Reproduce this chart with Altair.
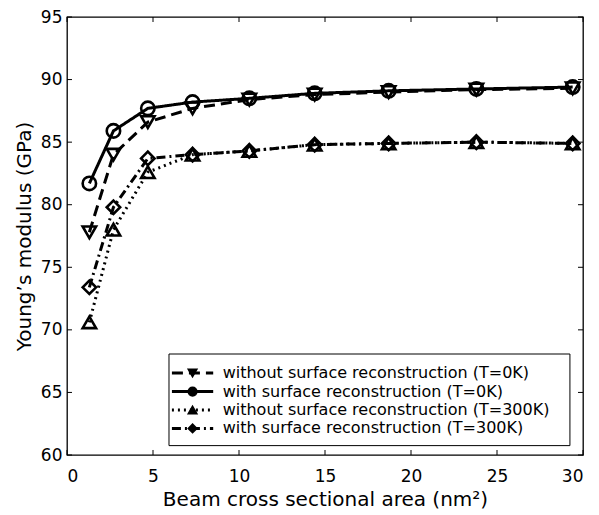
import altair as alt
import pandas as pd

# ---- data ----
area = [1.3, 2.7, 4.7, 7.3, 10.6, 14.4, 18.7, 23.8, 29.4]
series_names = [
    "without surface reconstruction (T=0K)",
    "with surface reconstruction (T=0K)",
    "without surface reconstruction (T=300K)",
    "with surface reconstruction (T=300K)",
]
without_0K = [77.8, 84.0, 86.6, 87.7, 88.4, 88.8, 89.0, 89.2, 89.3]
with_0K = [81.7, 85.9, 87.7, 88.2, 88.5, 88.9, 89.1, 89.25, 89.4]
without_300K = [70.6, 78.0, 82.6, 84.0, 84.3, 84.8, 84.9, 85.0, 84.9]
with_300K = [73.4, 79.8, 83.7, 84.0, 84.3, 84.8, 84.9, 85.0, 84.9]
x_ticks = [0, 5, 10, 15, 20, 25, 30]
y_ticks = [60, 65, 70, 75, 80, 85, 90, 95]

# legend layout (in data units)
legend_box = {"x": 5.93, "x2": 29.24, "y": 60.75, "y2": 68.07}
legend_rows_y = [66.55, 65.07, 63.6, 62.12]
legend_line_x = [6.1, 8.5]
legend_marker_x = 7.3
legend_text_x = 9.05

FONT = "DejaVu Sans"

values = [without_0K, with_0K, without_300K, with_300K]
rows = []
for name, vals in zip(series_names, values):
    for xv, yv in zip(area, vals):
        rows.append({"series": name, "area": xv, "E": yv})
df = pd.DataFrame(rows)

leg_lines = pd.DataFrame(
    [{"series": n, "area": lx, "E": ly} for n, ly in zip(series_names, legend_rows_y) for lx in legend_line_x]
)
leg_pts = pd.DataFrame(
    [{"series": n, "area": legend_marker_x, "E": ly} for n, ly in zip(series_names, legend_rows_y)]
)
leg_txt = pd.DataFrame(
    [{"series": n, "area": legend_text_x, "E": ly} for n, ly in zip(series_names, legend_rows_y)]
)

xscale = alt.Scale(domain=[0, 30], nice=False, zero=False)
yscale = alt.Scale(domain=[60, 95], nice=False, zero=False)
dash_scale = alt.Scale(domain=series_names, range=[[11, 6], [1, 0], [2, 4], [9, 4, 2, 4]])
width_scale = alt.Scale(domain=series_names, range=[3, 3, 2, 2.5])
shape_scale = alt.Scale(domain=series_names, range=["triangle-down", "circle", "triangle-up", "diamond"])

X = alt.X("area:Q", scale=xscale,
          axis=alt.Axis(values=x_ticks, title="Beam cross sectional area (nm²)", labelPadding=13,
                        titlePadding=5, ticks=False, domain=False, grid=False))
Y = alt.Y("E:Q", scale=yscale,
          axis=alt.Axis(values=y_ticks, title="Young’s modulus (GPa)", labelPadding=5,
                        titlePadding=6, ticks=False, domain=False, grid=False))

lines = alt.Chart(df).mark_line(color="black").encode(
    x=X, y=Y,
    strokeDash=alt.StrokeDash("series:N", scale=dash_scale, legend=None),
    strokeWidth=alt.StrokeWidth("series:N", scale=width_scale, legend=None),
    detail="series:N",
    order="area:Q",
)
points = alt.Chart(df).mark_point(filled=False, color="black", strokeWidth=2.6, size=180, opacity=1).encode(
    x="area:Q", y="E:Q",
    shape=alt.Shape("series:N", scale=shape_scale, legend=None),
)

# inward ticks on all four sides
tx = pd.DataFrame({"t": x_ticks})
ty = pd.DataFrame({"t": y_ticks})
tick_bottom = alt.Chart(tx).mark_rule(color="black", strokeWidth=1).encode(
    x="t:Q", y=alt.datum(60), y2=alt.datum(60.4))
tick_top = alt.Chart(tx).mark_rule(color="black", strokeWidth=1).encode(
    x="t:Q", y=alt.datum(95), y2=alt.datum(94.6))
tick_left = alt.Chart(ty).mark_rule(color="black", strokeWidth=1).encode(
    y="t:Q", x=alt.datum(0), x2=alt.datum(0.29))
tick_right = alt.Chart(ty).mark_rule(color="black", strokeWidth=1).encode(
    y="t:Q", x=alt.datum(30), x2=alt.datum(29.71))

# legend
box = alt.Chart(pd.DataFrame([legend_box])).mark_rect(fill="white", stroke="black", strokeWidth=1).encode(
    x="x:Q", x2="x2:Q", y="y:Q", y2="y2:Q")
leg_l = alt.Chart(leg_lines).mark_line(color="black").encode(
    x="area:Q", y="E:Q",
    strokeDash=alt.StrokeDash("series:N", scale=dash_scale, legend=None),
    strokeWidth=alt.StrokeWidth("series:N", scale=width_scale, legend=None),
    detail="series:N",
)
leg_p = alt.Chart(leg_pts).mark_point(filled=True, color="black", size=75, opacity=1,
                                      stroke="black", strokeWidth=1.5).encode(
    x="area:Q", y="E:Q",
    shape=alt.Shape("series:N", scale=shape_scale, legend=None),
)
leg_t = alt.Chart(leg_txt).mark_text(align="left", baseline="middle", fontSize=16,
                                     font=FONT, color="black").encode(
    x="area:Q", y="E:Q", text="series:N")

chart = alt.layer(
    lines, points, tick_bottom, tick_top, tick_left, tick_right, box, leg_l, leg_p, leg_t
).properties(
    width=516, height=438,
    autosize=alt.AutoSizeParams(type="none"),
    padding={"left": 67, "top": 17, "right": 16, "bottom": 60},
    background="white",
).configure_view(
    stroke="black", strokeWidth=1.3
).configure_axis(
    labelFont=FONT, titleFont=FONT,
    labelFontSize=17, titleFontSize=20, labelColor="black", titleColor="black",
    titleFontWeight="normal",
)

chart.save("out.html", embed_options={"renderer": "svg", "actions": False})
